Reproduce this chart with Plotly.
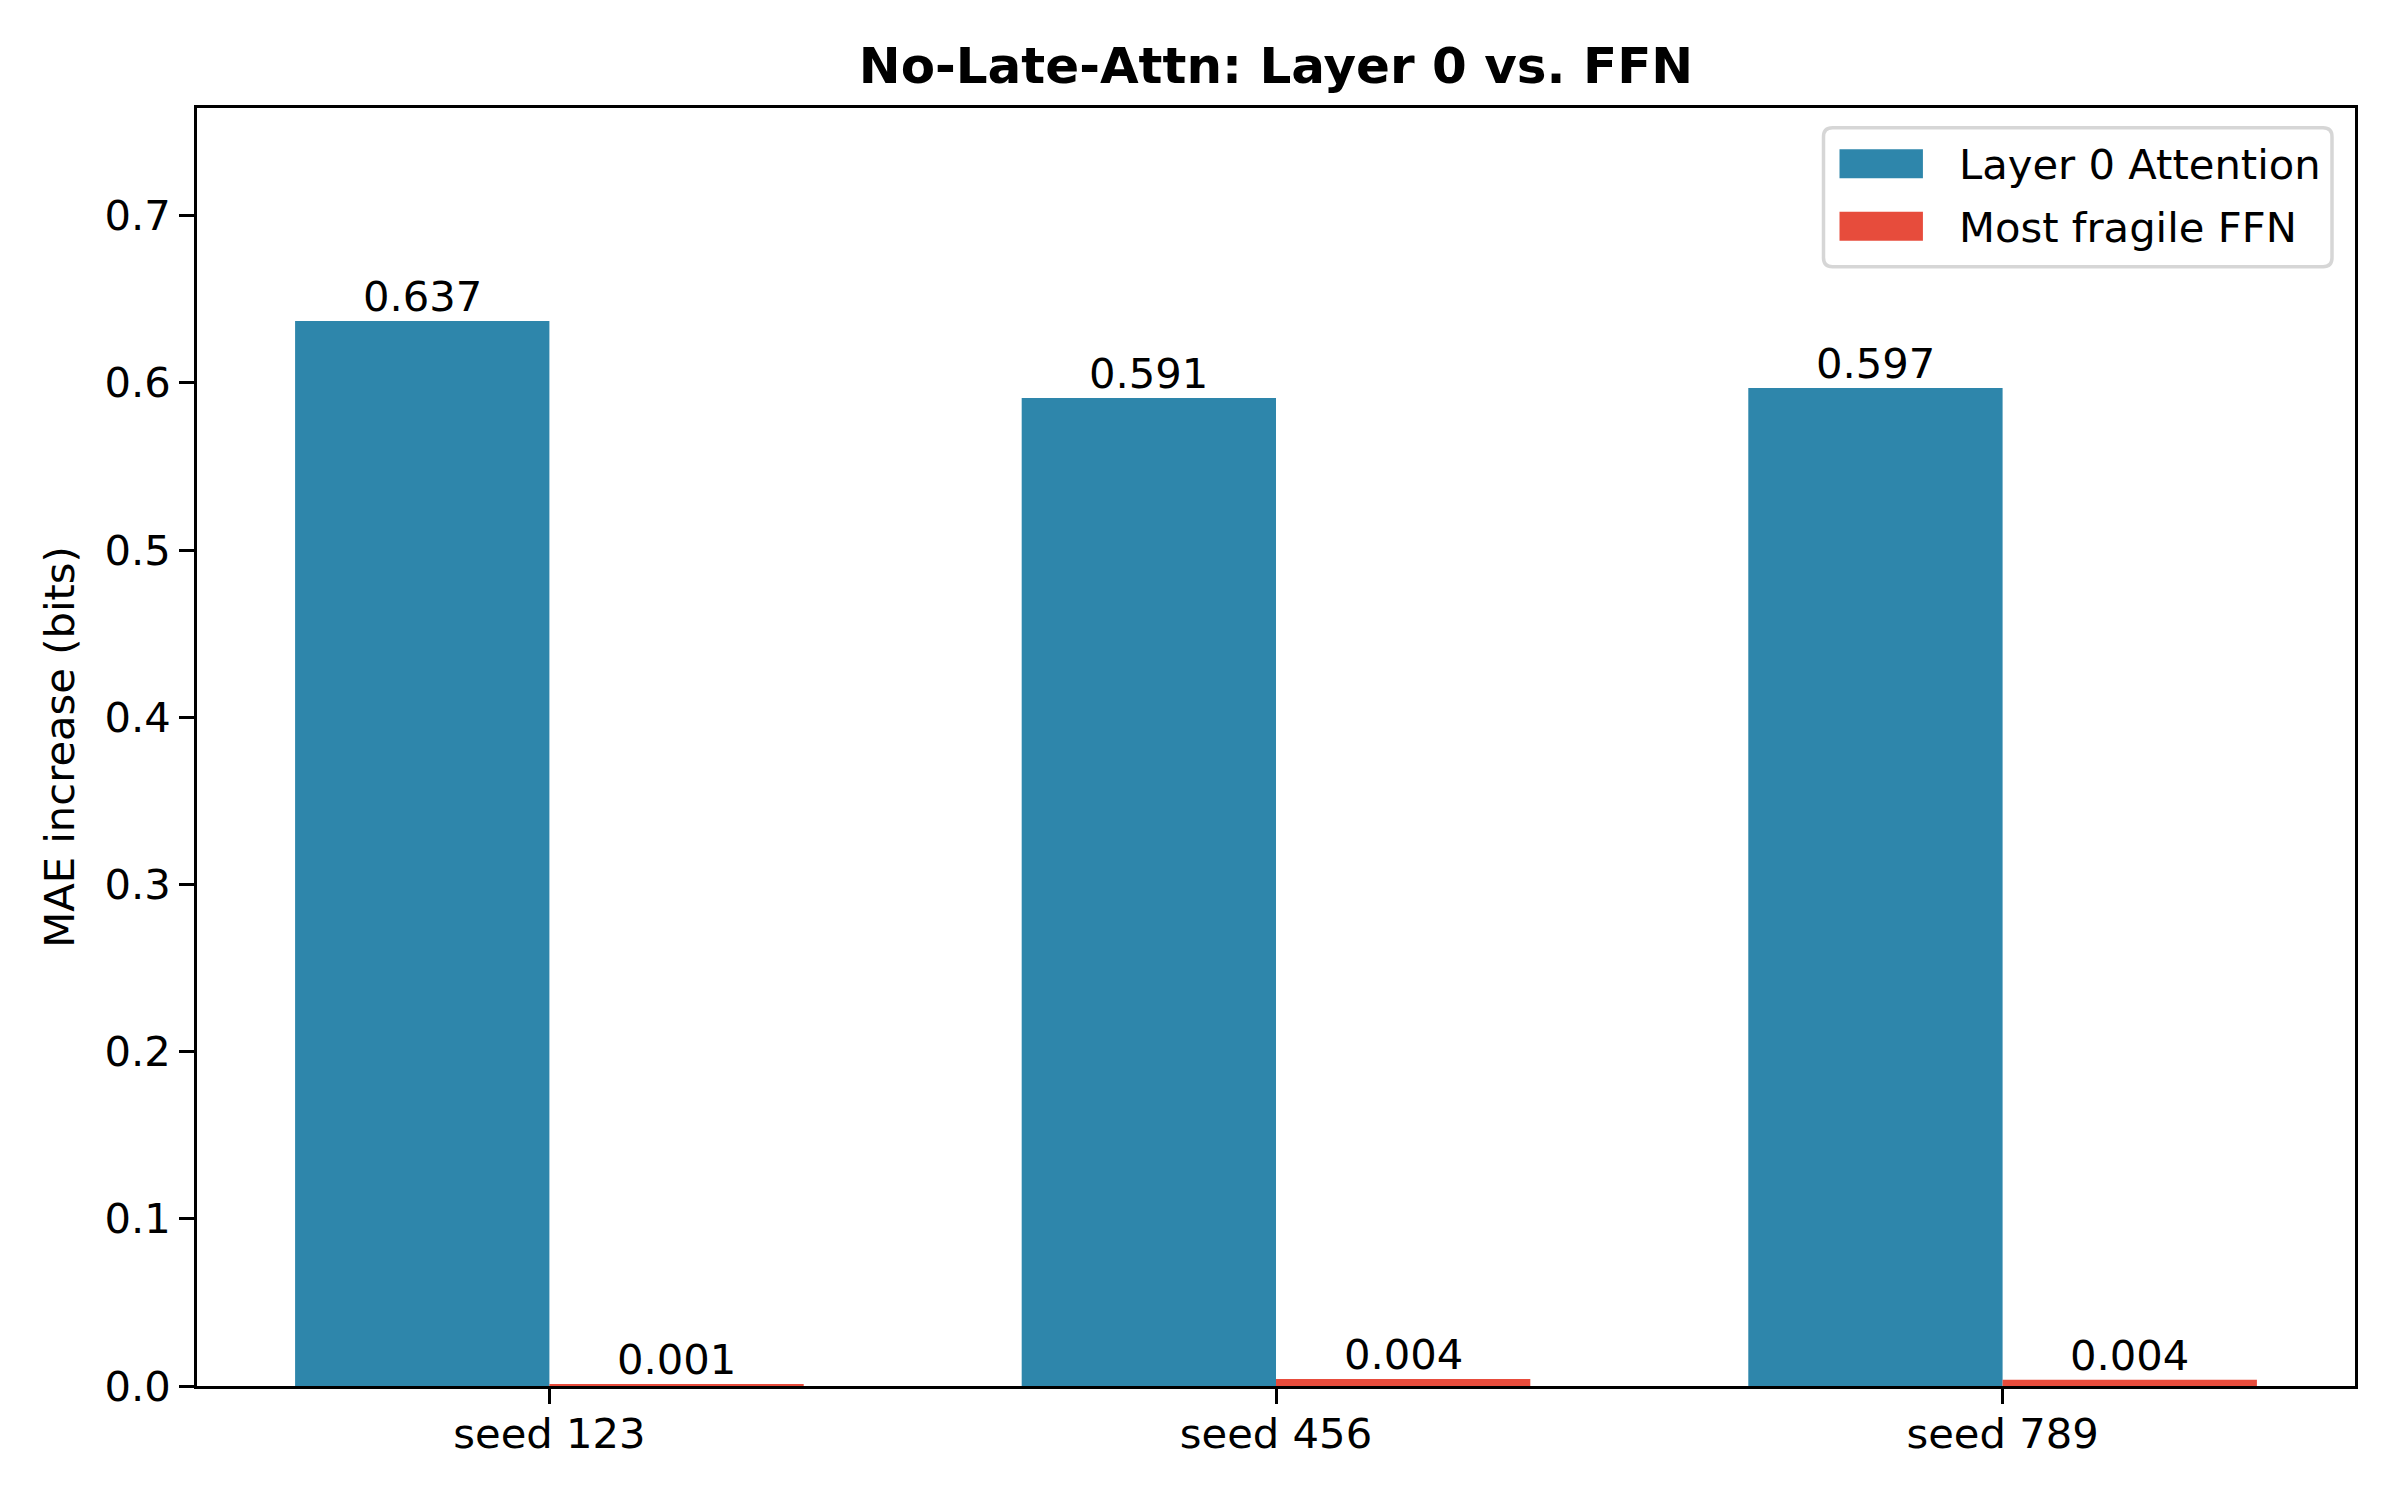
import plotly.graph_objects as go

# Data
seeds = ["seed 123", "seed 456", "seed 789"]
layer0_attn = [0.637, 0.591, 0.597]
ffn_fragile = [0.0012, 0.0042, 0.0037]
ytick_vals = [0.0, 0.1, 0.2, 0.3, 0.4, 0.5, 0.6, 0.7]
series_names = ["Layer 0 Attention", "Most fragile FFN"]

BLUE = "#2E86AB"
RED = "#E74C3C"
FONT = "DejaVu Sans"
FS = 41.7
LW = 3.3

# page body has an 8px margin; compensate so the plot lands where intended
OFF = 8
W, H = 2400 - OFF, 1500 - OFF
PX0, PX1, PY0, PY1 = 197.4, 2355, 108.3, 1386  # plot area on screen


def px(X):
    return (X - PX0) / (PX1 - PX0)


def py(Y):
    return (PY1 - Y) / (PY1 - PY0)


x_idx = list(range(len(seeds)))
bar_w = 0.35

fig = go.Figure()
fig.add_trace(go.Bar(
    x=x_idx, y=layer0_attn, width=bar_w, offset=-bar_w,
    name=series_names[0], marker=dict(color=BLUE, line=dict(width=0)),
    showlegend=False,
))
fig.add_trace(go.Bar(
    x=x_idx, y=ffn_fragile, width=bar_w, offset=0,
    name=series_names[1], marker=dict(color=RED, line=dict(width=0)),
    showlegend=False,
))

ymax = max(layer0_attn) * 1.2

annotations = []
# value labels above each bar
for vals, shift in [(layer0_attn, -bar_w / 2), (ffn_fragile, bar_w / 2)]:
    for i, v in zip(x_idx, vals):
        annotations.append(dict(text=f"{v:.3f}", x=i + shift, y=v, xref="x", yref="y",
                                xanchor="center", yanchor="bottom", yshift=-2,
                                showarrow=False,
                                font=dict(family=FONT, size=FS, color="black")))

# ---- legend drawn as a matplotlib-style box ----
bx0, bx1, by0, by1 = 1823.6, 2332, 128, 267
r = 9
rx, ry = r / (PX1 - PX0), r / (PY1 - PY0)
X0, X1, Y0, Y1 = px(bx0), px(bx1), py(by1), py(by0)
path = (f"M{X0+rx},{Y0} L{X1-rx},{Y0} Q{X1},{Y0} {X1},{Y0+ry} "
        f"L{X1},{Y1-ry} Q{X1},{Y1} {X1-rx},{Y1} L{X0+rx},{Y1} "
        f"Q{X0},{Y1} {X0},{Y1-ry} L{X0},{Y0+ry} Q{X0},{Y0} {X0+rx},{Y0} Z")
shapes = [dict(type="path", xref="paper", yref="paper", path=path,
               fillcolor="rgba(255,255,255,0.8)",
               line=dict(color="rgba(204,204,204,0.8)", width=3.5), layer="above")]
sw_x0, sw_x1 = 1839.6, 1923
text_x = 1957.5
for name, col, cy in zip(series_names, [BLUE, RED], [164, 226.5]):
    shapes.append(dict(type="rect", xref="paper", yref="paper",
                       x0=px(sw_x0), x1=px(sw_x1), y0=py(cy + 14.5), y1=py(cy - 14.5),
                       fillcolor=col, line=dict(width=0), layer="above"))
    annotations.append(dict(text=name, xref="paper", yref="paper",
                            x=px(text_x), y=py(cy + 1), xanchor="left", yanchor="middle",
                            showarrow=False, font=dict(family=FONT, size=FS, color="black")))

fig.update_layout(
    width=W, height=H,
    margin=dict(l=PX0 - OFF, r=W - (PX1 - OFF), t=PY0 - OFF, b=H - (PY1 - OFF), pad=0),
    paper_bgcolor="white", plot_bgcolor="white",
    font=dict(family=FONT, size=FS, color="black"),
    barmode="overlay",
    title=dict(text="<b>No-Late-Attn: Layer 0 vs. FFN</b>",
               font=dict(family=FONT, size=50, color="black"),
               x=(1276 - OFF) / W, xanchor="center",
               y=1 - (65 - OFF) / H, yanchor="middle", yref="container"),
    showlegend=False,
    shapes=shapes,
    annotations=annotations,
    xaxis=dict(
        range=[-0.485, 2.485], tickvals=x_idx, ticktext=seeds,
        showgrid=False, zeroline=False,
        showline=True, linecolor="black", linewidth=LW, mirror=True,
        ticks="outside", ticklen=14.6, tickwidth=LW, tickcolor="black",
        ticklabelstandoff=-6,
        tickfont=dict(family=FONT, size=FS, color="black"),
    ),
    yaxis=dict(
        range=[0, ymax], tickvals=ytick_vals,
        ticktext=[f"{v:.1f}" for v in ytick_vals],
        showgrid=False, zeroline=False,
        showline=True, linecolor="black", linewidth=LW, mirror=True,
        ticks="outside", ticklen=14.6, tickwidth=LW, tickcolor="black",
        tickfont=dict(family=FONT, size=FS, color="black"),
        title=dict(text="MAE increase (bits)", standoff=18,
                   font=dict(family=FONT, size=FS, color="black")),
    ),
)

fig.write_html("out.html")
